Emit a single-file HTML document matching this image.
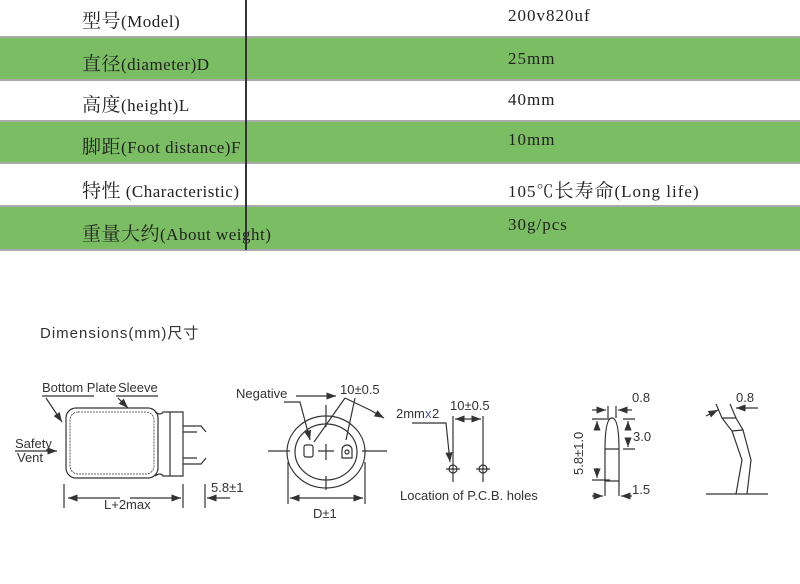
<!DOCTYPE html>
<html><head><meta charset="utf-8"><style>
body{margin:0;width:800px;height:584px;background:#fff;overflow:hidden;position:relative}
.row{position:absolute;left:0;width:800px;font-family:"Liberation Serif","Noto Serif CJK SC",serif;font-size:17px;color:#222;border-bottom:2px solid #aaa}
.g{background:#7bbd62}
.a{position:absolute;left:82px;letter-spacing:0.5px}
.b{position:absolute;left:508px;letter-spacing:1px}
.cn{font-size:19px}
svg{position:absolute;left:0;top:0}
</style></head><body>
<div class="row" style="top:0;height:36px"><span class="a" style="top:6px"><span class="cn">型号</span>(Model)</span><span class="b" style="top:6px">200v820uf</span></div>
<div class="row g" style="top:38px;height:41px"><span class="a" style="top:11px"><span class="cn">直径</span>(diameter)D</span><span class="b" style="top:11px">25mm</span></div>
<div class="row" style="top:81px;height:39px"><span class="a" style="top:9px"><span class="cn">高度</span>(height)L</span><span class="b" style="top:9px">40mm</span></div>
<div class="row g" style="top:122px;height:40px"><span class="a" style="top:10px"><span class="cn">脚距</span>(Foot distance)F</span><span class="b" style="top:8px">10mm</span></div>
<div class="row" style="top:164px;height:41px"><span class="a" style="top:12px"><span class="cn">特性</span> (Characteristic)</span><span class="b" style="top:12px">105℃<span class="cn">长寿命</span>(Long life)</span></div>
<div class="row g" style="top:207px;height:42px"><span class="a" style="top:12px"><span class="cn">重量大约</span>(About weight)</span><span class="b" style="top:8px">30g/pcs</span></div>
<div style="position:absolute;left:245px;top:0;width:2px;height:250px;background:#333"></div>
<div style="position:absolute;left:40px;top:322px;font-family:'Liberation Sans','Noto Sans CJK SC',sans-serif;font-size:15px;color:#333;letter-spacing:1px">Dimensions(mm)尺寸</div>
<svg width="800" height="584" font-family="Liberation Sans,sans-serif" font-size="13" fill="none" stroke="#333" stroke-width="1.2">
<defs><marker id="ar" markerWidth="8" markerHeight="6" refX="8" refY="3" orient="auto"><path d="M0,0L8,3L0,6z" fill="#333" stroke="none"/></marker></defs>
<g fill="#333" stroke="none">
<text x="42" y="392">Bottom Plate</text><text x="118" y="392">Sleeve</text>
<text x="15" y="448">Safety</text><text x="17" y="462">Vent</text>
<text x="104" y="509">L+2max</text><text x="211" y="492">5.8±1</text>
<text x="236" y="398">Negative</text><text x="340" y="394">10±0.5</text>
<text x="313" y="518">D±1</text>
<text x="396" y="418">2mm</text><text x="425" y="418" fill="#55a">x</text><text x="432" y="418">2</text>
<text x="450" y="410">10±0.5</text>
<text x="400" y="500">Location of P.C.B. holes</text>
<text x="632" y="402">0.8</text><text x="633" y="441">3.0</text><text x="632" y="494">1.5</text>
<text x="736" y="402">0.8</text>
<text transform="translate(583,475) rotate(-90)">5.8±1.0</text>
</g>
<rect x="66" y="408" width="92" height="70" rx="10"/>
<rect x="70" y="412" width="84" height="62" rx="8" stroke-dasharray="2,1" stroke-width="0.8"/>
<path d="M155,412 q6,4 8,0 h20 v64 h-20 q-2,-4 -8,0"/>
<line x1="170" y1="412" x2="170" y2="476"/>
<path d="M183,426 h18 l5,6 M183,432 h14 M183,458 h14 M183,464 h18 l5,-6"/>
<path d="M42,396 h52 M46,398 L62,422" marker-end="url(#ar)"/>
<path d="M116,396 h42 M118,398 L128,408" marker-end="url(#ar)"/>
<path d="M15,451 h42" marker-end="url(#ar)"/>
<path d="M64,484 v24 M183,484 v24 M205,484 v24"/>
<path d="M120,498 H68" marker-end="url(#ar)"/><path d="M130,498 H181" marker-end="url(#ar)"/>
<path d="M230,498 H207" marker-end="url(#ar)"/>
<ellipse cx="326" cy="452" rx="39" ry="36"/>
<ellipse cx="326" cy="452" rx="31" ry="28"/>
<path d="M268,451 h22 M318,451 h16 M362,451 h25 M326,405 v22 M326,444 v16 M326,476 v14"/>
<rect x="304" y="445" width="9" height="12" rx="2"/>
<path d="M342,458 v-8 a5,5 0 0 1 10,0 v8 z"/><circle cx="347" cy="452" r="2"/>
<path d="M284,402 h16 L310,440" marker-end="url(#ar)"/>
<path d="M296,396 h40" marker-end="url(#ar)"/>
<path d="M345,398 L314,442 M345,398 L370,410 M355,398 L346,440"/>
<path d="M370,410 L384,418" marker-end="url(#ar)"/>
<path d="M288,462 v42 M365,462 v42"/>
<path d="M326,498 H290" marker-end="url(#ar)"/><path d="M326,498 H363" marker-end="url(#ar)"/>
<path d="M453,416 v66 M483,416 v66"/>
<circle cx="453" cy="469" r="4"/><circle cx="483" cy="469" r="4"/>
<path d="M446,469 h14 M476,469 h14"/>
<path d="M468,419 H455" marker-end="url(#ar)"/><path d="M468,419 H481" marker-end="url(#ar)"/>
<path d="M412,423 h34 L450,462" marker-end="url(#ar)"/>
<path d="M608,406 v12 M616,406 v12"/>
<path d="M592,410 H606" marker-end="url(#ar)"/><path d="M632,410 H618" marker-end="url(#ar)"/>
<path d="M605,496 V450 Q605,418 612,418 Q619,418 619,450 V496 M605,449 h14 M605,481 h14"/>
<path d="M592,419 h18 M592,480 h18 M623,419 h12 M623,449 h12"/>
<path d="M597,430 V421" marker-end="url(#ar)"/><path d="M597,468 V478" marker-end="url(#ar)"/>
<path d="M628,428 V421" marker-end="url(#ar)"/><path d="M628,440 V447" marker-end="url(#ar)"/>
<path d="M592,496 H603" marker-end="url(#ar)"/><path d="M632,496 H621" marker-end="url(#ar)"/>
<path d="M716,404 L722,418 L732,431 L742,460 L736,494 M730,404 L736,418 L743,430 L751,460 L747,494"/>
<path d="M722,418 L736,418 M732,431 L743,430"/>
<path d="M706,494 H768"/>
<path d="M706,416 L718,410" marker-end="url(#ar)"/><path d="M758,408 H736" marker-end="url(#ar)"/>
</svg>
</body></html>
